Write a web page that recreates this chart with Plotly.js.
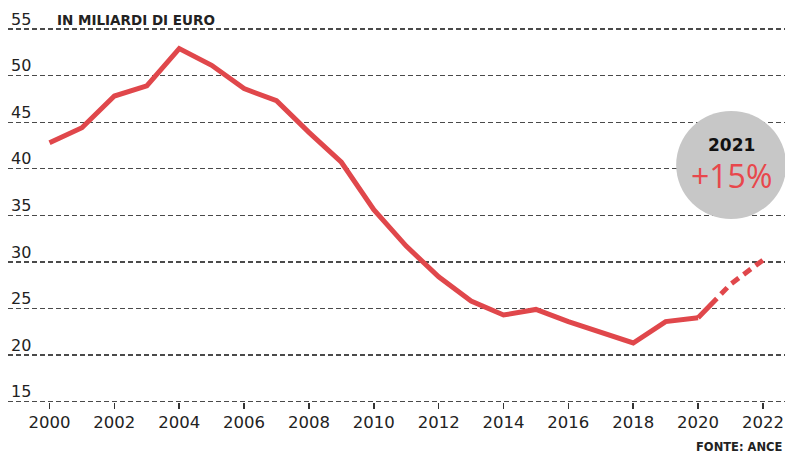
<!DOCTYPE html>
<html>
<head>
<meta charset="utf-8">
<script src="https://cdn.plot.ly/plotly-3.0.1.min.js"></script>
<style>html,body{margin:0;padding:0;background:#fff;}#chart{width:785px;height:455px;}</style>
</head>
<body>
<div id="chart"></div>
<script>
// Data (billions of euro)
var years = [2000,2001,2002,2003,2004,2005,2006,2007,2008,2009,2010,2011,2012,2013,2014,2015,2016,2017,2018,2019,2020];
var values = [42.8,44.4,47.8,48.9,52.9,51.1,48.6,47.3,43.9,40.7,35.6,31.7,28.4,25.8,24.3,24.9,23.6,22.4,21.3,23.6,24.0];
var forecastYears = [2020,2021,2022];
var forecastValues = [24.0,27.6,30.2];
var xTickVals = [2000,2002,2004,2006,2008,2010,2012,2014,2016,2018,2020,2022];
var yTickVals = [15,20,25,30,35,40,45,50,55];
var unitLabel = "IN MILIARDI DI EURO";
var sourceLabel = "FONTE: ANCE";
var badgeYear = "2021";
var badgeChange = "+15%";

var red = "#e0474b";
var yMin = 14, yMax = 56.5;

var traces = [
  {x: forecastYears, y: forecastValues, type: "scatter", mode: "lines",
   line: {color: red, width: 5, dash: "27px,6px,9px,6px,9px,6px,9px,6px,9px,6px,9px,6px"}, hoverinfo: "skip"},
  {x: years, y: values, type: "scatter", mode: "lines",
   line: {color: red, width: 5}, hoverinfo: "skip"}
];

var layout = {
  width: 785, height: 455,
  margin: {l: 8, r: 0, t: 15, b: 44},
  paper_bgcolor: "#fff", plot_bgcolor: "#fff",
  showlegend: false,
  font: {family: "DejaVu Sans, sans-serif", color: "#222"},
  xaxis: {
    range: [1998.72, 2022.68],
    anchor: "free",
    position: (15 - yMin) / (yMax - yMin),
    tickvals: xTickVals,
    ticktext: xTickVals.map(String),
    showgrid: false, zeroline: false, showline: false,
    ticks: "outside", ticklen: 6, tickwidth: 1.5, tickcolor: "#333",
    tickfont: {size: 16.5, color: "#222"},
    ticklabeloverflow: "allow",
    fixedrange: true
  },
  yaxis: {
    range: [yMin, yMax],
    tickvals: yTickVals,
    ticktext: yTickVals.map(String),
    showgrid: true, gridcolor: "#4a4a4a", gridwidth: 1.3, griddash: "5px,3px",
    zeroline: false, showline: false, ticks: "",
    ticklabelposition: "inside",
    ticklabelshift: -10,
    ticklabelstandoff: 0,
    ticklabeloverflow: "allow",
    tickfont: {size: 16, color: "#222"},
    fixedrange: true
  },
  shapes: [
    {type: "circle", xref: "x", yref: "y", xsizemode: "pixel", ysizemode: "pixel",
     xanchor: 2021.02, yanchor: 40.4, x0: -55, x1: 55, y0: -54, y1: 54,
     fillcolor: "#c7c7c7", line: {width: 0}, layer: "above"}
  ],
  annotations: [
    {text: unitLabel, xref: "paper", yref: "paper", x: 47/777, y: 1.0, xanchor: "left", yanchor: "middle",
     yshift: -5, showarrow: false, font: {size: 13.5, color: "#222", family: "DejaVu Sans, sans-serif", weight: "bold"}},
    {text: sourceLabel, xref: "paper", yref: "paper", x: 1, y: 0, xanchor: "right", yanchor: "middle",
     yshift: -36, showarrow: false, font: {size: 11.5, color: "#222", family: "DejaVu Sans, sans-serif", weight: "bold"}},
    {text: badgeYear, xref: "x", yref: "y", x: 2021.02, y: 40.4, xanchor: "center", yanchor: "middle",
     yshift: 20, showarrow: false, font: {size: 17, color: "#111", family: "DejaVu Sans, sans-serif", weight: "bold"}},
    {text: badgeChange, xref: "x", yref: "y", x: 2021.02, y: 40.4, xanchor: "center", yanchor: "middle",
     yshift: -10, showarrow: false, font: {size: 32, color: "#e8474c", family: "Open Sans, sans-serif"}}
  ]
};

Plotly.newPlot("chart", traces, layout, {displayModeBar: false, staticPlot: true});
</script>
</body>
</html>
